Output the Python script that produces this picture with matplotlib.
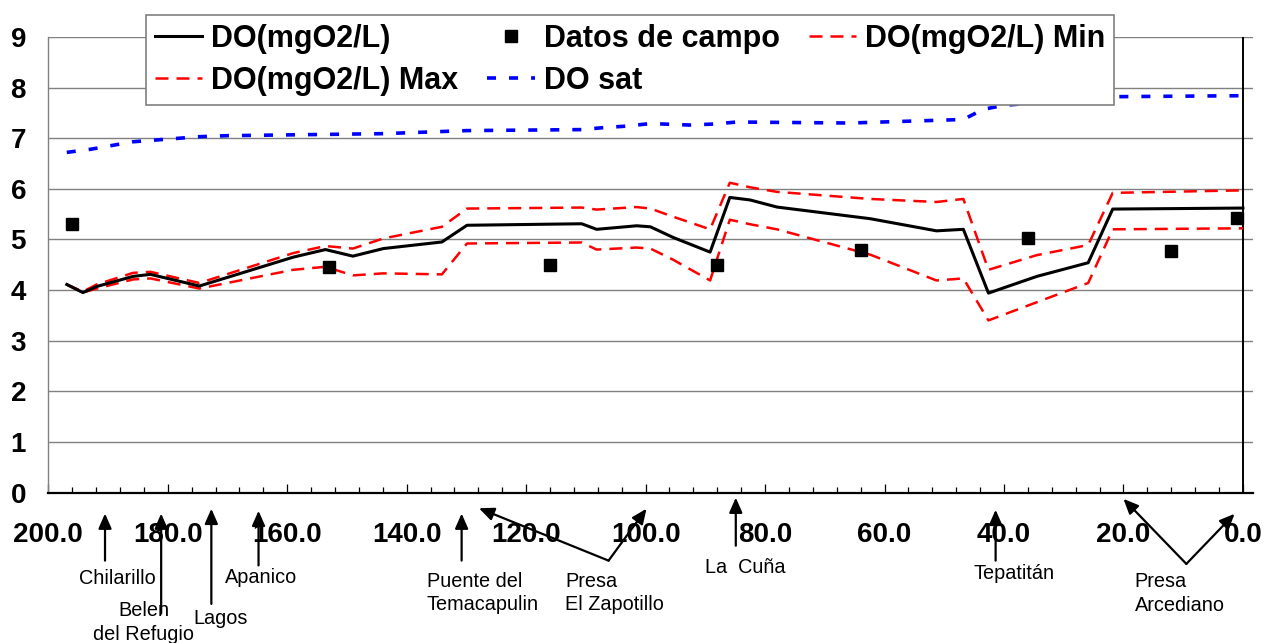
import matplotlib
matplotlib.use("Agg")
import matplotlib.pyplot as plt
from matplotlib.ticker import MultipleLocator, FormatStrFormatter

plt.rcParams['font.family'] = ['Liberation Sans', 'DejaVu Sans']

# distance along the river (km), model output
x_km = [196.9, 194.2, 191.9, 185.8, 182.9, 174.7, 159.0, 153.6, 149.0, 143.9,
        134.1, 129.9, 110.7, 108.2, 101.5, 99.2, 95.4, 89.2, 85.9, 82.5,
        78.0, 62.4, 51.3, 46.8, 42.6, 34.5, 25.9, 21.8, 0.0]
do_mean = [4.11, 3.95, 4.07, 4.27, 4.31, 4.08, 4.65, 4.80, 4.67, 4.82,
           4.95, 5.28, 5.31, 5.20, 5.27, 5.25, 5.04, 4.75, 5.83, 5.78,
           5.64, 5.41, 5.17, 5.20, 3.94, 4.27, 4.54, 5.60, 5.62]
do_max = [4.11, 3.97, 4.11, 4.34, 4.36, 4.14, 4.73, 4.87, 4.82, 5.02,
          5.25, 5.61, 5.63, 5.59, 5.64, 5.61, 5.45, 5.20, 6.12, 6.03,
          5.94, 5.80, 5.74, 5.80, 4.40, 4.69, 4.89, 5.92, 5.97]
do_min = [4.11, 3.95, 4.03, 4.21, 4.23, 4.03, 4.40, 4.46, 4.29, 4.33,
          4.31, 4.92, 4.94, 4.80, 4.84, 4.82, 4.60, 4.19, 5.39, 5.30,
          5.20, 4.70, 4.19, 4.23, 3.40, 3.76, 4.14, 5.20, 5.22]

sat_km = [196.9, 193.0, 185.8, 174.7, 170.0, 143.9, 130.0, 110.7, 107.0, 103.0,
          99.2, 92.6, 88.7, 84.7, 65.8, 46.8, 43.5, 40.0, 21.8, 0.0]
do_sat = [6.72, 6.78, 6.93, 7.03, 7.05, 7.09, 7.15, 7.17, 7.21, 7.24,
          7.29, 7.26, 7.28, 7.32, 7.30, 7.37, 7.57, 7.65, 7.82, 7.84]

# field measurements
field_km = [196.0, 153.0, 116.0, 88.0, 64.0, 36.0, 12.0, 1.0]
field_do = [5.30, 4.46, 4.49, 4.50, 4.79, 5.03, 4.77, 5.42]

# places along the river
stations = ['Chilarillo', 'Belen\ndel Refugio', 'Lagos', 'Apanico',
            'Puente del\nTemacapulin', 'La  Cuña', 'Tepatitán']
station_km = [190.5, 181.1, 172.7, 164.8, 130.8, 84.9, 41.4]
dams = ['Presa\nEl Zapotillo', 'Presa\nArcediano']
dam_km = [(127.9, 99.85), (20.0, 1.4)]

fig = plt.figure(figsize=(12.67, 6.43), dpi=100)
ax = fig.add_axes([0.0381, 0.234, 0.9509, 0.7085])

h_do, = ax.plot(x_km, do_mean, color='black', lw=2.2, label='DO(mgO2/L)', zorder=4)
h_field, = ax.plot(field_km, field_do, 's', color='black', ms=9, ls='none',
                   label='Datos de campo', zorder=5)
h_min, = ax.plot(x_km, do_min, color='red', lw=1.8, ls=(0, (5.2, 3.2)),
                 label='DO(mgO2/L) Min', zorder=3)
h_max, = ax.plot(x_km, do_max, color='red', lw=1.8, ls=(0, (5.2, 3.2)),
                 label='DO(mgO2/L) Max', zorder=3)
h_sat, = ax.plot(sat_km, do_sat, color='#0000FF', lw=2.6, ls=(0, (2.5, 3.6)),
                 label='DO sat', zorder=3)

ax.set_xlim(200, -1.7)
ax.set_ylim(0, 9)
ax.set_yticks(range(10))
ax.xaxis.set_major_locator(MultipleLocator(20))
ax.xaxis.set_minor_locator(MultipleLocator(4))
ax.xaxis.set_major_formatter(FormatStrFormatter('%.1f'))

ax.grid(axis='y', color='#808080', lw=1.0)
ax.set_axisbelow(True)
ax.axvline(0, color='black', lw=1.4, zorder=2)

for s in ['top', 'right']:
    ax.spines[s].set_visible(False)
ax.spines['left'].set_color('#808080')
ax.spines['left'].set_linewidth(1.0)
ax.spines['bottom'].set_color('black')
ax.spines['bottom'].set_linewidth(1.6)

ax.tick_params(axis='x', which='major', direction='in', length=6.5, width=0.9,
               pad=21, labelsize=20)
ax.tick_params(axis='x', which='minor', direction='in', length=4.3, width=0.9)
ax.tick_params(axis='y', length=0, pad=16, labelsize=20)
for lab in ax.get_xticklabels() + ax.get_yticklabels():
    lab.set_fontweight('bold')

# arrows and names below the axis
layout = [
    (-0.415, -1.345, 188.5, -1.70, 'center'),
    (-0.415, -2.39, 184.0, -2.57, 'center'),
    (-0.32, -2.20, 171.1, -2.49, 'center'),
    (-0.36, -1.44, 164.4, -1.68, 'center'),
    (-0.415, -1.345, 136.6, -1.98, 'left'),
    (-0.10, -1.05, 83.3, -1.48, 'center'),
    (-0.34, -1.345, 38.3, -1.60, 'center'),
]
aprops = dict(arrowstyle='-|>,head_length=0.5,head_width=0.22', color='black',
              lw=1.6, mutation_scale=18, shrinkA=0, shrinkB=0)
for name, km, (tip, tail, tx, ty, ha) in zip(stations, station_km, layout):
    ax.annotate('', xy=(km, tip), xytext=(km, tail), arrowprops=aprops,
                annotation_clip=False)
    ax.text(tx, ty, name, ha=ha, va='center', multialignment=ha, fontsize=14.3,
            linespacing=1.3, clip_on=False)

dam_layout = [
    ((106.2, -1.345), (-0.31, -0.32), (113.5, -1.98)),
    ((9.47, -1.41), (-0.125, -0.42), (18.1, -1.99)),
]
for name, kms, (vertex, tips, tpos) in zip(dams, dam_km, dam_layout):
    for km, tip in zip(kms, tips):
        ax.annotate('', xy=(km, tip), xytext=vertex, arrowprops=aprops,
                    annotation_clip=False)
    ax.text(tpos[0], tpos[1], name, ha='left', va='center', fontsize=14.3,
            linespacing=1.3, clip_on=False)

leg = ax.legend([h_do, h_max, h_field, h_sat, h_min],
                ['DO(mgO2/L)', 'DO(mgO2/L) Max', 'Datos de campo', 'DO sat',
                 'DO(mgO2/L) Min'],
                ncol=3, loc='upper left', bbox_to_anchor=(146 / 1267, 1 - 15 / 643),
                bbox_transform=fig.transFigure, borderaxespad=0,
                prop={'weight': 'bold', 'size': 22}, handlelength=1.55,
                handletextpad=0.3, columnspacing=0.95, labelspacing=0.41,
                borderpad=0.28, fancybox=False, framealpha=1, edgecolor='#808080')
leg.get_frame().set_linewidth(1.2)
leg.set_zorder(10)

fig.savefig('out.png', dpi=100)
